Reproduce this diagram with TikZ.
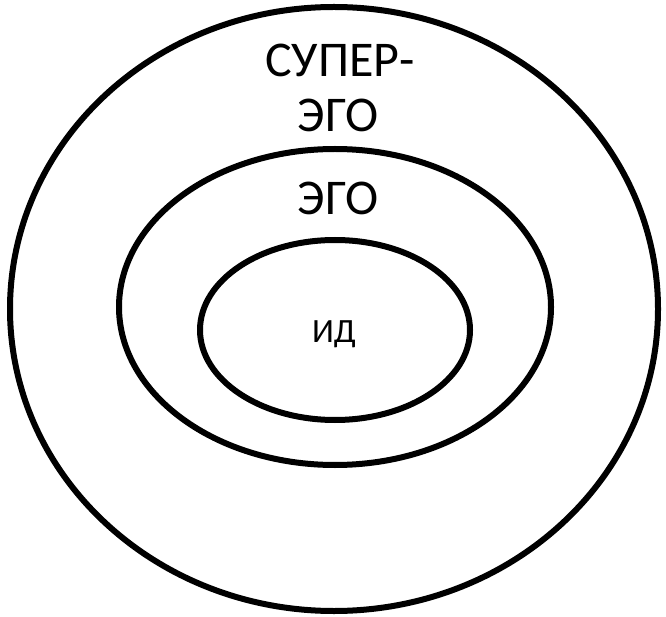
\documentclass[tikz,border=0pt]{standalone}
\usepackage{fontspec}
\setmainfont{Carlito}
\tikzset{ring/.style={draw=black, line width=6pt, fill=none},
  lbl/.style={font=\fontsize{50}{55}\selectfont, align=center, inner sep=0pt},
  lblsmall/.style={font=\fontsize{34}{40}\selectfont, inner sep=0pt}}
\begin{document}
\begin{tikzpicture}[x=1pt,y=-1pt]
\useasboundingbox (0,0) rectangle (666,617);
\fill[white] (0,0) rectangle (666,617);
\draw[ring] (334,309) ellipse [x radius=324, y radius=302];
\draw[ring] (335,307) ellipse [x radius=216, y radius=158];
\draw[ring] (335,330) ellipse [x radius=135, y radius=90];
\node[lbl, anchor=base] (super) at (340,77) {СУПЕР-};
\node[lbl, anchor=base] (superego) at (338,132) {ЭГО};
\node[lbl, anchor=base] (ego) at (338,215) {ЭГО};
\node[lblsmall, anchor=base] (id) at (334,342) {ИД};
\end{tikzpicture}
\end{document}
